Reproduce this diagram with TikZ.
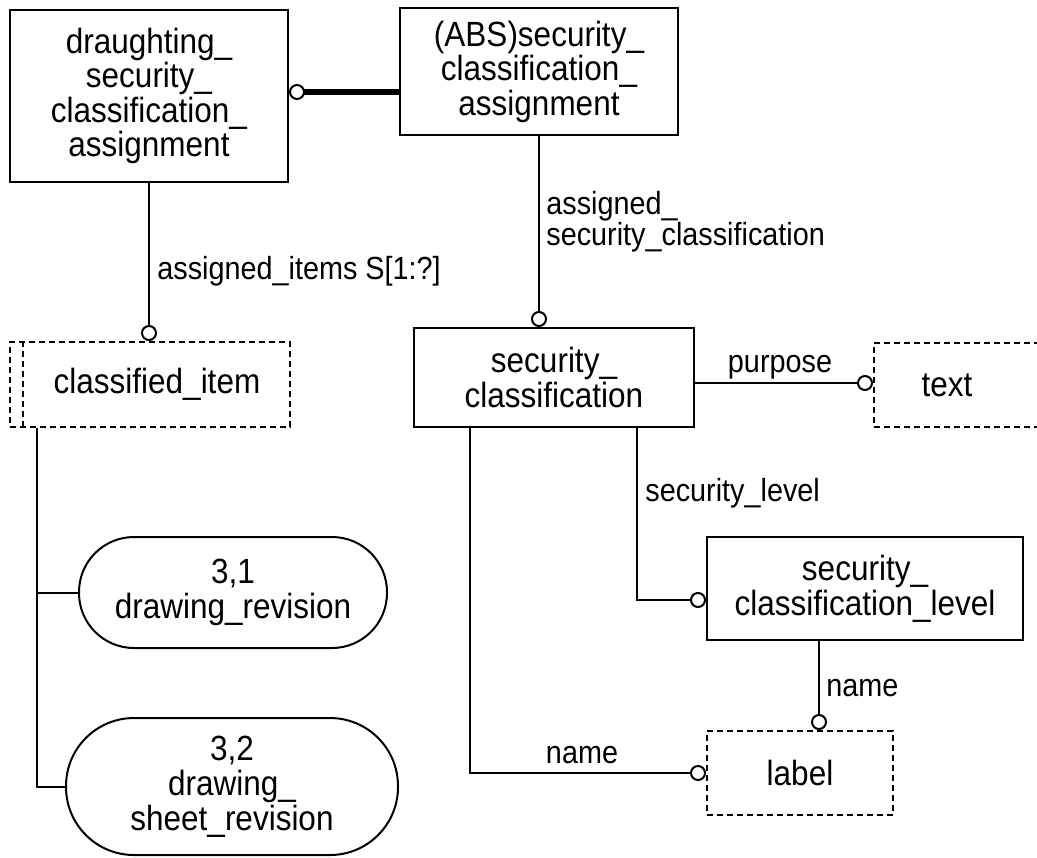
\documentclass[tikz,border=0pt]{standalone}
\usepackage{fontspec}
\setmainfont{Liberation Sans}[FakeStretch=0.9]
\usetikzlibrary{calc,arrows.meta}

\begin{document}
\begin{tikzpicture}[x=0.5pt,y=-0.5pt,
    ent/.style={draw, line width=1pt, align=center, inner sep=0pt, font=\fontsize{17.5}{16}\selectfont},
    ref/.style={ent, dashed, dash pattern=on 3pt off 2pt},
    pill/.style={ent, font=\fontsize{17.5}{17.5}\selectfont},
    lab/.style={inner sep=0pt, align=left, font=\fontsize{16}{15.5}\selectfont},
    rel/.style={line width=1pt, -{Circle[open,length=8pt,width=8pt,line width=1pt]}},
    link/.style={line width=1pt}]
  \useasboundingbox (0,0) rectangle (1037,857);

  % entities
  \node[ent, minimum width=139pt, minimum height=86pt] (dsca) at (149,96) {draughting\_\\security\_\\classification\_\\assignment};
  \node[ent, minimum width=139pt, minimum height=63.5pt] (abs) at (539,71.5) {(ABS)security\_\\classification\_\\assignment};
  \node[ent, minimum width=140pt, minimum height=49.5pt] (sc) at (554,377.5) {security\_\\classification};
  \node[ent, minimum width=158pt, minimum height=51.5pt] (scl) at (865,588.5) {security\_\\classification\_level};

  % referenced types
  \node[ref, minimum width=140pt, minimum height=42.5pt] (ci) at (150,384.5) {\hspace*{7pt}classified\_item};
  \draw[link, dashed, dash pattern=on 3pt off 2pt] ($(ci.north west)+(14,0)$) -- ($(ci.south west)+(14,0)$);
  \node[ref, minimum width=83pt, minimum height=42pt] (txt) at (957,385) {\hspace*{-10pt}text};
  \node[ref, minimum width=93pt, minimum height=42pt] (lbl) at (800,773) {label};

  % page references
  \node[pill, rounded corners=27.5pt, minimum width=154pt, minimum height=55.5pt] (dr) at (233,592.5) {3,1\\drawing\_revision};
  \node[pill, rounded corners=34pt, minimum width=166pt, minimum height=68.5pt] (dsr) at (232,786.5) {3,2\\drawing\_\\sheet\_revision};

  % relationships
  \draw[rel, line width=3pt] (abs.west |- 0,92) -- (dsca.east |- 0,92);
  \draw[rel] (dsca.south) -- (dsca.south |- ci.north);
  \node[lab, anchor=west] (lai) at (157,271) {assigned\_items S[1:?]};
  \draw[rel] (abs.south) -- (abs.south |- sc.north);
  \node[lab, anchor=west] (lasc) at (546,222) {assigned\_\\security\_classification};
  \draw[rel] (sc.east |- 0,383) -- (txt.west |- 0,383);
  \node[lab] (lpur) at (780,367) {purpose};
  \draw[rel] (sc.south -| 637,0) |- ($(scl.west)+(0,11.5)$);
  \node[lab, anchor=west] (lsl) at (645,493) {security\_level};
  \draw[rel] (sc.south -| 470,0) |- (lbl.west);
  \node[lab] (lnm) at (582,755) {name};
  \draw[rel] (scl.south -| 819,0) -- (lbl.north -| 819,0);
  \node[lab, anchor=west] (lnm2) at (826,688) {name};

  % subtypes
  \draw[link] (ci.south -| 37,0) |- (dsr.west);
  \draw[link] (dr.west) -- (dr.west -| 37,0);
\end{tikzpicture}
\end{document}
